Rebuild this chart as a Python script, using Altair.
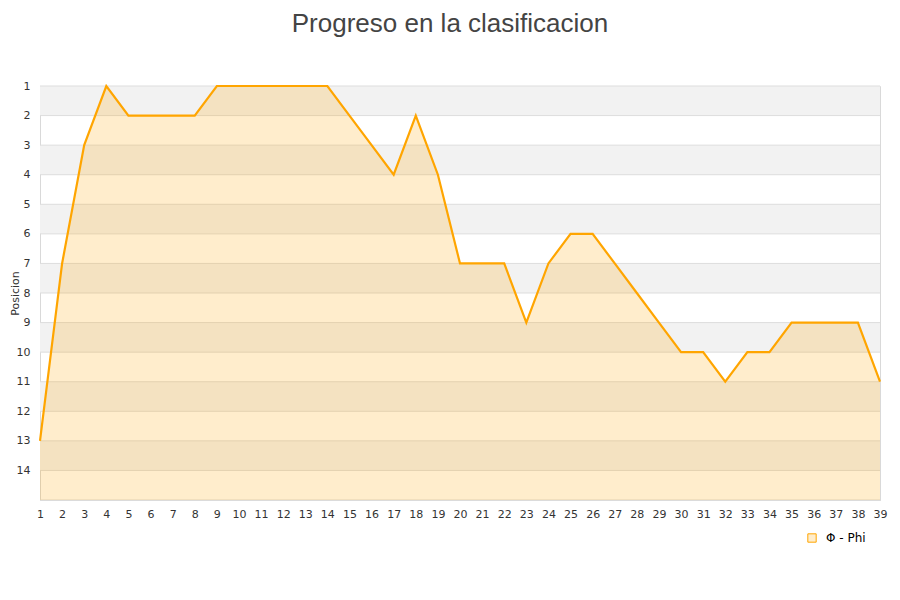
import altair as alt
import pandas as pd

jornadas = list(range(1, 40))
posiciones = [13, 7, 3, 1, 2, 2, 2, 2, 1, 1, 1, 1, 1, 1, 2, 3, 4, 2, 4,
              7, 7, 7, 9, 7, 6, 6, 7, 8, 9, 10, 10, 11, 10, 10, 9, 9, 9, 9, 11]
serie = "Φ - Phi"
y_ticks = list(range(1, 15))
band_starts = [1, 3, 5, 7, 9, 11, 13]
grid_vals = list(range(1, 16))

df = pd.DataFrame({"jornada": jornadas, "pos": posiciones, "serie": serie})
bands = pd.DataFrame({"y": band_starts, "y2": [b + 1 for b in band_starts]})
grid = pd.DataFrame({"y": grid_vals})

x_scale = alt.Scale(domain=[1, 39], nice=False, zero=False)
y_scale = alt.Scale(domain=[1, 15], reverse=True, nice=False, zero=False)

x_axis = alt.Axis(values=jornadas, title=None, grid=False, ticks=False, domain=True,
                  domainColor="#d9d9d9", labelFont="DejaVu Sans", labelFontSize=11,
                  labelColor="#333333", labelPadding=8, labelFlush=False, labelOverlap=False)
y_axis = alt.Axis(values=y_ticks, title="Posicion", grid=False, ticks=False, domain=True,
                  domainColor="#d9d9d9", labelFont="DejaVu Sans", labelFontSize=11,
                  labelColor="#333333", labelPadding=10, labelOverlap=False,
                  titleFont="DejaVu Sans", titleFontSize=11, titleFontWeight="normal",
                  titleColor="#333333", titleAngle=270, titleX=-25, titleY=207,
                  titleAlign="center", titleBaseline="middle")

Y = lambda f: alt.Y(f, scale=y_scale, axis=y_axis, title="Posicion")
X = lambda f: alt.X(f, scale=x_scale, axis=x_axis, title=None)

band_layer = alt.Chart(bands).mark_rect(color="#f2f2f2").encode(
    y=Y("y:Q"),
    y2="y2:Q",
    x=alt.value(0), x2=alt.value(840),
)

grid_layer = alt.Chart(grid).mark_rule(color="#dddddd", strokeWidth=1).encode(
    y=Y("y:Q"),
    x=alt.value(0), x2=alt.value(840),
)

area_layer = alt.Chart(df).mark_area(color="#ffa500", opacity=0.2).encode(
    x=X("jornada:Q"),
    y=Y("pos:Q"),
    y2=alt.datum(15),
)

line_layer = alt.Chart(df).mark_line(strokeWidth=2.2).encode(
    x=X("jornada:Q"),
    y=Y("pos:Q"),
    stroke=alt.Stroke("serie:N", scale=alt.Scale(domain=[serie], range=["#ffa500"]),
                      legend=alt.Legend(title=None, orient="none", legendX=766, legendY=446,
                                        symbolType="square", symbolFillColor="#ffedcc",
                                        symbolStrokeColor="#d9a04a", symbolStrokeWidth=1,
                                        symbolSize=70, labelOffset=8, labelFont="DejaVu Sans",
                                        labelFontSize=12, labelColor="#000000")),
)

chart = alt.layer(band_layer, grid_layer, area_layer, line_layer).properties(
    width=840, height=414,
    title=alt.TitleParams("Progreso en la clasificacion", font="Liberation Sans",
                          fontSize=26, fontWeight="normal", color="#444444",
                          anchor="middle", offset=43, dx=-10),
    autosize=alt.AutoSizeParams(type="none"),
    padding={"left": 32, "top": 78, "right": 12, "bottom": 92},
).configure_view(stroke="#d9d9d9")

chart.save("out.html", embed_options={"renderer": "svg", "actions": False})
